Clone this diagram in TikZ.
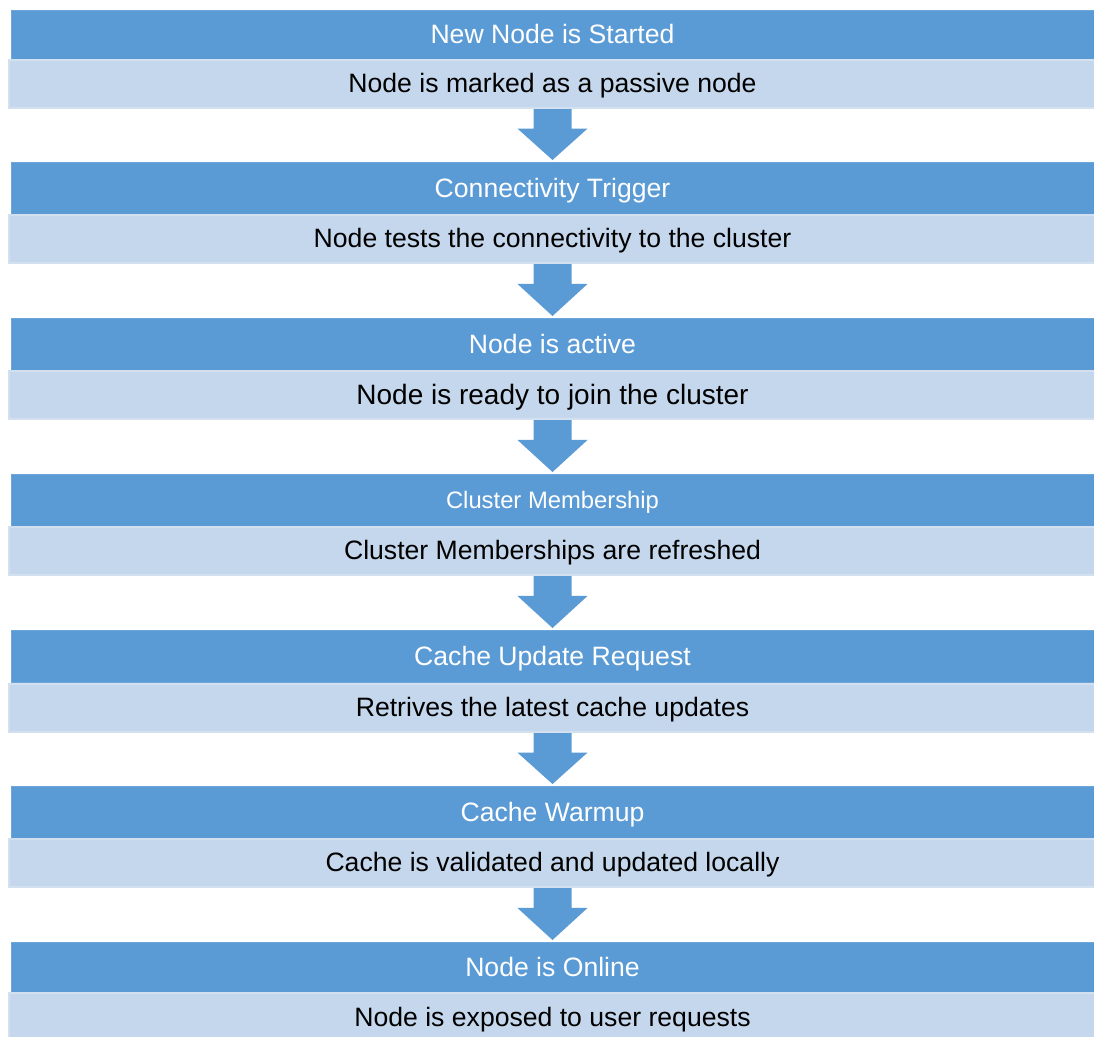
\documentclass[tikz,border=0pt]{standalone}
\usepackage{fontspec}
\setmainfont{Liberation Sans}
\usetikzlibrary{calc}

\definecolor{stepblue}{HTML}{5B9BD5}
\definecolor{stepblueedge}{HTML}{6EA6DA}
\definecolor{steplight}{HTML}{C5D7EC}
\definecolor{steplightedge}{HTML}{D3E0F0}

\tikzset{
  titlebox/.style={fill=stepblue, draw=stepblueedge, line width=1pt,
    minimum width=1083pt, inner sep=0pt, anchor=north, text=white,
    text height=19pt, text depth=2pt, font=\fontsize{26.6}{30}\selectfont},
  detailbox/.style={fill=steplight, draw=steplightedge, line width=2pt,
    minimum width=1087pt, inner sep=0pt, anchor=north, text=black,
    text height=19pt, text depth=2pt, font=\fontsize{26.6}{30}\selectfont},
  flowfill/.style={fill=stepblue}
}

% block arrow from the bottom of one step to the top of the next
\newcommand\stepflow[2]{%
  \fill[flowfill] let \p1=(#1.south), \p2=(#2.north),
      \n1={\y1+0.37*(\y2-\y1)} in
    (\x1-19pt,\y1) -- (\x1+19pt,\y1) -- (\x1+19pt,{\n1*1pt})
    -- (\x1+35pt,{\n1*1pt}) -- (\x2,\y2+2pt) -- (\x1-35pt,{\n1*1pt})
    -- (\x1-19pt,{\n1*1pt}) -- cycle;}

\begin{document}
\begin{tikzpicture}[x=1pt, y=-1pt]
  \useasboundingbox (0,0) rectangle (1094,1036);
  \clip (0,0) rectangle (1094,1036);
  \fill[white] (0,0) rectangle (1094,1036);

  % step 1
  \fill[stepblueedge] (11,106) rectangle (1094,109);
  \node[titlebox, minimum height=49pt] (t1) at (552.5,10) {New Node is Started};
  \node[detailbox, minimum height=48pt] (d1) at (552.5,59) {Node is marked as a passive node};

  % step 2
  \node[titlebox, minimum height=52pt] (t2) at (552.5,162) {Connectivity Trigger};
  \node[detailbox, minimum height=48pt] (d2) at (552.5,214) {Node tests the connectivity to the cluster};

  % step 3
  \node[titlebox, minimum height=52pt] (t3) at (552.5,318) {Node is active};
  \node[detailbox, minimum height=48pt, font=\fontsize{28}{32}\selectfont,
        text height=20pt] (d3) at (552.5,370) {Node is ready to join the cluster};

  % step 4
  \node[titlebox, minimum height=52pt, font=\fontsize{23.8}{28}\selectfont,
        text height=17pt] (t4) at (552.5,474) {Cluster Membership};
  \node[detailbox, minimum height=48pt] (d4) at (552.5,526) {Cluster Memberships are refreshed};

  % step 5
  \node[titlebox, minimum height=52pt] (t5) at (552.5,630) {Cache Update Request};
  \node[detailbox, minimum height=48pt] (d5) at (552.5,683) {Retrives the latest cache updates};

  % step 6
  \node[titlebox, minimum height=52pt] (t6) at (552.5,786) {Cache Warmup};
  \node[detailbox, minimum height=48pt] (d6) at (552.5,838) {Cache is validated and updated locally};

  % step 7
  \node[titlebox, minimum height=50pt] (t7) at (552.5,942) {Node is Online};
  \node[detailbox, minimum height=50pt] (d7) at (552.5,992) {Node is exposed to user requests};

  % arrows between steps
  \stepflow{d1}{t2}
  \stepflow{d2}{t3}
  \stepflow{d3}{t4}
  \stepflow{d4}{t5}
  \stepflow{d5}{t6}
  \stepflow{d6}{t7}
\end{tikzpicture}
\end{document}
